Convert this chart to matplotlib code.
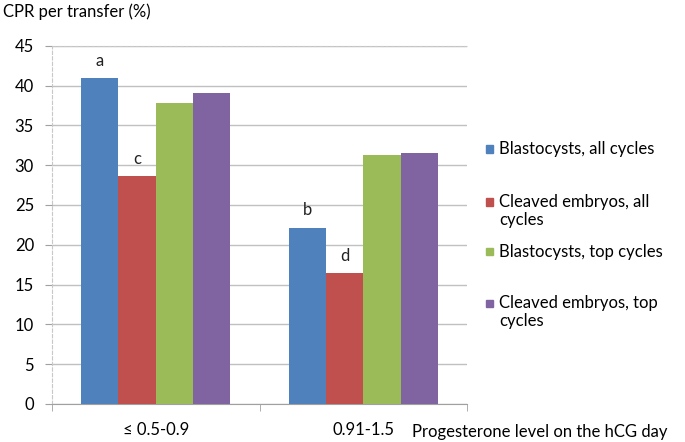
import numpy as np
import matplotlib
matplotlib.use('Agg')
from matplotlib import pyplot as plt
from matplotlib.patches import Rectangle

plt.rcParams['font.family'] = ['Lato', 'DejaVu Sans']

groups = ['\u2264 0.5-0.9', '0.91-1.5']
series = ['Blastocysts, all cycles', 'Cleaved embryos, all\ncycles',
          'Blastocysts, top cycles', 'Cleaved embryos, top\ncycles']
colors = ['#4F81BD', '#C0504D', '#9BBB59', '#8064A2']
blast_all = [40.9, 22.1]
cleaved_all = [28.6, 16.4]
blast_top = [37.8, 31.3]
cleaved_top = [39.0, 31.5]
letters = [['a', 'b'], ['c', 'd'], ['', ''], ['', '']]

values = [blast_all, cleaved_all, blast_top, cleaved_top]
fs = 12

fig = plt.figure(figsize=(6.85, 4.42), dpi=100)
ax = fig.add_axes([52/685, 38/442, (467-52)/685, (404-45.7)/442])

x = np.arange(len(groups))
w = 0.18
for i in range(4):
    pos = x + (i - 1.5) * w
    ax.bar(pos, values[i], w, color=colors[i], edgecolor='none', zorder=3)
    for p, v, l in zip(pos, values[i], letters[i]):
        if l:
            ax.text(p, v + 1.2, l, ha='center', va='bottom', fontsize=fs, color='#222222')

ax.set_xlim(-0.5, 1.5)
ax.set_ylim(0, 45)
ax.set_yticks(np.arange(0, 46, 5))
ax.yaxis.grid(True, color='#c0c0c0', linewidth=1, zorder=0)
ax.set_xticks(x)
ax.set_xticklabels(groups)
ax.set_xticks([-0.5, 0.5, 1.5], minor=True)
ax.tick_params(axis='x', which='major', length=0, pad=13, labelsize=fs)
ax.tick_params(axis='x', which='minor', length=5, color='#a0a0a0')
ax.tick_params(axis='y', length=5, color='#a0a0a0', labelsize=fs, pad=8)
for s in ['top', 'left']:
    ax.spines[s].set_linestyle((0, (3, 2)))
    ax.spines[s].set_color('#c8c8c8')
ax.spines['right'].set_visible(False)
ax.spines['bottom'].set_color('#a0a0a0')

fig.text(3/685, 1 - 12/442, 'CPR per transfer (%)', fontsize=fs, va='center', ha='left')
fig.text(412/685, 1 - 432/442, 'Progesterone level on the hCG day', fontsize=fs, va='center', ha='left')

leg_y = [149, 202, 252, 303]
for c, lab, yy in zip(colors, series, leg_y):
    fig.patches.append(Rectangle((486/685, 1 - (yy + 3.5)/442), 7/685, 7/442,
                                 color=c, transform=fig.transFigure, figure=fig))
    fig.text(499/685, 1 - (yy - 8)/442, lab, fontsize=fs, va='top', ha='left',
             linespacing=1.15)

fig.savefig('out.png', dpi=100)
